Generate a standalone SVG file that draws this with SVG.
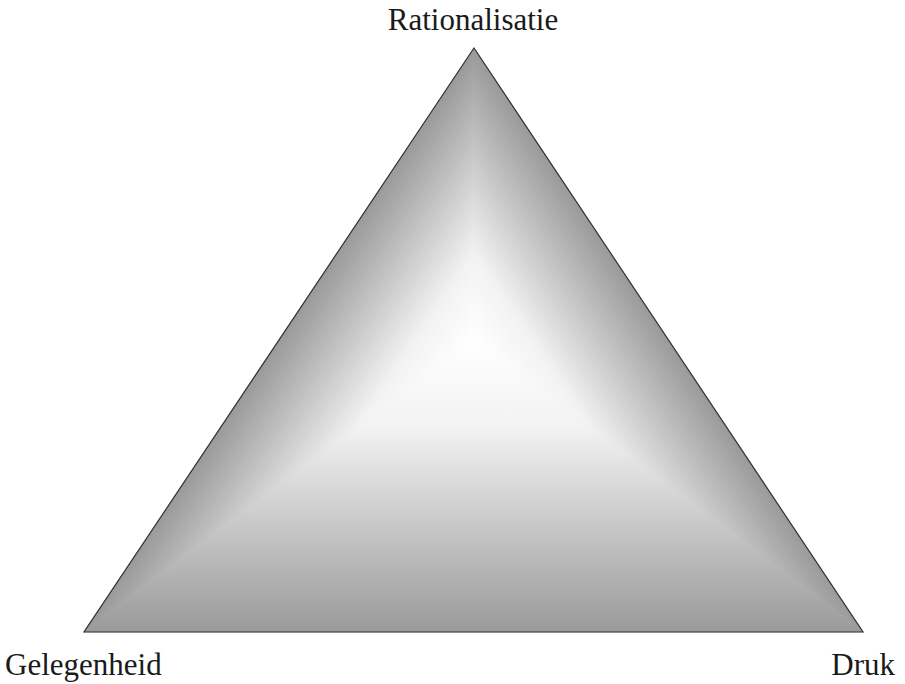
<svg xmlns="http://www.w3.org/2000/svg" width="905" height="684" viewBox="0 0 905 684">
  <style>
    .lbl { font-family: "Liberation Serif", "Times New Roman", serif; font-size: 31px; fill: #1a1a1a; }
  </style>
  <defs>
    <linearGradient id="gB" gradientUnits="userSpaceOnUse" x1="473.5" y1="632" x2="473.5" y2="340">
      <stop offset="0" stop-color="#9a9a9a"/>
      <stop offset="0.35" stop-color="#c6c6c6"/>
      <stop offset="0.7" stop-color="#f2f2f2"/>
      <stop offset="1" stop-color="#ffffff"/>
    </linearGradient>
    <linearGradient id="gL" gradientUnits="userSpaceOnUse" x1="339.0" y1="250.2" x2="473.5" y2="340">
      <stop offset="0" stop-color="#9a9a9a"/>
      <stop offset="0.35" stop-color="#c6c6c6"/>
      <stop offset="0.7" stop-color="#f2f2f2"/>
      <stop offset="1" stop-color="#ffffff"/>
    </linearGradient>
    <linearGradient id="gR" gradientUnits="userSpaceOnUse" x1="608.6" y1="250.0" x2="473.5" y2="340">
      <stop offset="0" stop-color="#9a9a9a"/>
      <stop offset="0.35" stop-color="#c6c6c6"/>
      <stop offset="0.7" stop-color="#f2f2f2"/>
      <stop offset="1" stop-color="#ffffff"/>
    </linearGradient>
  </defs>
  <g id="triangle">
    <polygon points="474,48 84,632 863,632" fill="#d0d0d0"/>
    <polygon points="474,48 84,632 473.5,340" fill="url(#gL)" stroke="url(#gL)" stroke-width="0.5"/>
    <polygon points="474,48 863,632 473.5,340" fill="url(#gR)" stroke="url(#gR)" stroke-width="0.5"/>
    <polygon points="84,632 863,632 473.5,340" fill="url(#gB)" stroke="url(#gB)" stroke-width="0.5"/>
    <polygon points="474,48 84,632 863,632" fill="none" stroke="#333333" stroke-width="1.2" stroke-linejoin="miter"/>
  </g>
  <g id="label-rationalisatie">
    <text class="lbl" x="473" y="30" text-anchor="middle">Rationalisatie</text>
  </g>
  <g id="label-gelegenheid">
    <text class="lbl" x="5" y="675">Gelegenheid</text>
  </g>
  <g id="label-druk">
    <text class="lbl" x="895" y="675" text-anchor="end">Druk</text>
  </g>
</svg>
